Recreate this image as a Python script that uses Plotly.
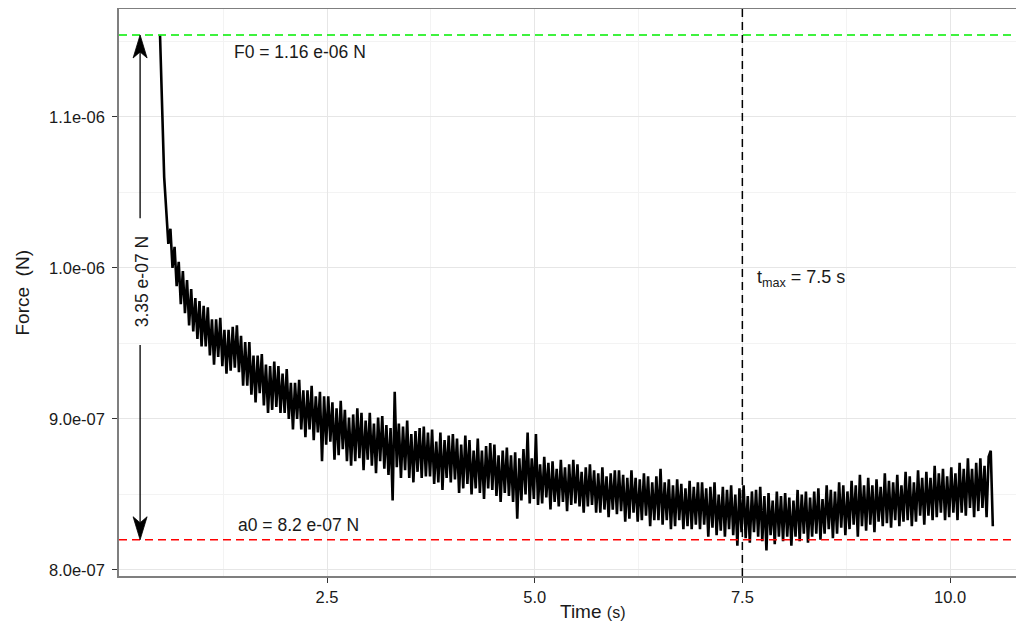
import plotly.graph_objects as go

# ---------------- data ----------------
T_START = 0.49          # s, first sample
T_STEP = 0.025          # s, sampling step of the hand-read trace
# force trace in units of 1e-9 N (nN)
force_nN = [
    1154, 1098, 1060, 1038, 1016, 1026, 1000, 1014, 988, 1004, 976, 998, 970, 992, 962, 986, 958, 980, 953, 978,
    948, 975, 948, 974, 942, 966, 936, 966, 941, 967, 935, 959, 930, 959, 932, 961, 934, 962, 931, 955,
    922, 951, 922, 951, 916, 942, 911, 942, 917, 943, 909, 936, 904, 935, 906, 938, 908, 935, 904, 930,
    904, 933, 900, 924, 893, 924, 900, 926, 893, 919, 888, 919, 893, 922, 886, 915, 891, 918, 872, 915,
    883, 915, 885, 911, 873, 907, 876, 912, 880, 906, 872, 901, 869, 903, 872, 907, 874, 904, 866, 899,
    873, 904, 869, 897, 864, 901, 872, 902, 867, 896, 863, 894, 846, 918, 868, 897, 861, 895, 866, 899,
    861, 890, 858, 892, 865, 894, 861, 895, 862, 891, 862, 893, 857, 885, 858, 891, 853, 886, 861, 889,
    858, 890, 860, 887, 851, 883, 854, 889, 857, 886, 850, 879, 854, 887, 851, 879, 847, 882, 854, 884,
    853, 883, 849, 876, 845, 879, 851, 881, 849, 876, 845, 878, 834, 874, 846, 880, 850, 891, 844, 874,
    847, 890, 843, 870, 844, 875, 848, 871, 840, 872, 845, 867, 842, 873, 845, 868, 839, 870, 843, 873,
    844, 870, 842, 865, 838, 868, 842, 870, 843, 866, 838, 864, 838, 868, 840, 862, 835, 864, 840, 866,
    837, 866, 839, 863, 832, 861, 834, 866, 838, 861, 832, 860, 833, 864, 836, 862, 829, 858, 833, 862,
    833, 867, 830, 858, 833, 860, 827, 856, 829, 860, 833, 857, 827, 854, 829, 859, 827, 855, 830, 858,
    827, 858, 830, 854, 822, 855, 828, 858, 823, 850, 826, 855, 822, 853, 827, 856, 823, 850, 816, 854,
    825, 856, 821, 849, 818, 852, 825, 853, 822, 855, 819, 849, 813, 851, 823, 846, 817, 852, 822, 849,
    819, 851, 822, 848, 816, 846, 822, 853, 819, 850, 824, 852, 818, 848, 822, 852, 824, 854, 820, 847,
    824, 856, 827, 853, 821, 852, 824, 858, 828, 856, 823, 852, 827, 859, 830, 856, 822, 863, 829, 856,
    826, 861, 830, 856, 825, 860, 832, 855, 829, 864, 831, 859, 828, 858, 833, 863, 829, 856, 832, 865,
    833, 862, 829, 858, 832, 866, 836, 861, 830, 865, 836, 861, 833, 869, 835, 864, 838, 867, 833, 862,
    835, 868, 838, 864, 833, 871, 838, 867, 836, 874, 841, 867, 835, 871, 839, 874, 841, 869, 835, 875,
    879, 829,
]
time_s = [round(T_START + T_STEP * i, 4) for i in range(len(force_nN))]
force_N = [v * 1e-9 for v in force_nN]

F0 = 1.1543e-6          # N, initial force (green line)
A0 = 8.2e-7             # N, asymptote (red line)
T_MAX = 7.5             # s, vertical dashed line
F0_LABEL = "F0 = 1.16 e-06 N"
A0_LABEL = "a0 = 8.2 e-07 N"
DIFF_LABEL = "3.35 e-07 N"
TMAX_LABEL = "t<sub>max</sub> = 7.5 s"

y_tickvals = [8.0e-7, 9.0e-7, 1.0e-6, 1.1e-6]
y_ticktext = ["8.0e-07", "9.0e-07", "1.0e-06", "1.1e-06"]
y_minor = [8.5e-7, 9.5e-7, 1.05e-6, 1.15e-6]
x_tickvals = [2.5, 5.0, 7.5, 10.0]
x_ticktext = ["2.5", "5.0", "7.5", "10.0"]
x_minor = [1.25, 3.75, 6.25, 8.75]

# ---------------- layout constants ----------------
# the page body has an 8px margin, so the figure is sized to fit the 1024x630 window
PAGE_PAD = 8
W, H = 1024 - 2 * PAGE_PAD, 630 - 2 * PAGE_PAD
ML, MR, MT, MB = 111, 0, 1, 46
PX_PER_S = 83.07
X_LEFT = -0.004
PLOT_W = W - ML - MR
PLOT_H = H - MT - MB
X_RANGE = [X_LEFT, X_LEFT + PLOT_W / PX_PER_S]
Y_RANGE = [7.96e-7, 1.1715e-6]
PX_X = PLOT_W / (X_RANGE[1] - X_RANGE[0])   # px per second
PX_Y = PLOT_H / (Y_RANGE[1] - Y_RANGE[0])   # px per newton

FONT = "Liberation Sans, Arial, Helvetica, sans-serif"
TXT = "#1a1a1a"
DASH = "8px,5px"

ARROW_X = 0.25           # s, position of the double arrow
GAP_TOP = 1.033e-6       # N, where upper arrow segment starts
GAP_BOT = 9.49e-7        # N, where lower arrow segment starts
HEAD_L, HEAD_W, HEAD_N = 23, 7, 6   # px: arrowhead length, half width, notch

fig = go.Figure()

fig.add_trace(go.Scatter(
    x=time_s, y=force_N, mode="lines",
    line=dict(color="black", width=2.6),
    hoverinfo="skip", showlegend=False,
))

shapes = []
# reference lines
shapes.append(dict(type="line", xref="paper", yref="y", x0=0, x1=1, y0=F0, y1=F0,
                   line=dict(color="#00ee00", width=1.5, dash=DASH)))
shapes.append(dict(type="line", xref="paper", yref="y", x0=0, x1=1, y0=A0, y1=A0,
                   line=dict(color="#ff0000", width=1.5, dash=DASH)))
shapes.append(dict(type="line", xref="x", yref="paper", x0=T_MAX, x1=T_MAX, y0=0, y1=1,
                   line=dict(color="black", width=1.5, dash=DASH)))

# double arrow (two segments + heads)
hl = HEAD_L / PX_Y
hn = (HEAD_L - HEAD_N) / PX_Y
hw = HEAD_W / PX_X
shapes.append(dict(type="line", xref="x", yref="y", x0=ARROW_X, x1=ARROW_X,
                   y0=GAP_TOP, y1=F0 - hn, line=dict(color="black", width=1.3)))
shapes.append(dict(type="line", xref="x", yref="y", x0=ARROW_X, x1=ARROW_X,
                   y0=GAP_BOT, y1=A0 + hn, line=dict(color="black", width=1.3)))
for tip, sgn in ((F0, -1), (A0, 1)):
    path = (f"M {ARROW_X},{tip} "
            f"L {ARROW_X - hw},{tip + sgn * hl} "
            f"L {ARROW_X},{tip + sgn * hn} "
            f"L {ARROW_X + hw},{tip + sgn * hl} Z")
    shapes.append(dict(type="path", xref="x", yref="y", path=path,
                       fillcolor="black", line=dict(color="black", width=0.8)))


def px_to_paper_x(px):
    return (px - PAGE_PAD - ML) / PLOT_W


def px_to_paper_y(py):
    return 1 - (py - PAGE_PAD - MT) / PLOT_H


annotations = [
    dict(x=2.175, y=1.1432e-6, xref="x", yref="y", text=F0_LABEL, showarrow=False,
         font=dict(size=17.5, color=TXT, family=FONT), xanchor="center", yanchor="middle"),
    dict(x=2.157, y=8.30e-7, xref="x", yref="y", text=A0_LABEL, showarrow=False,
         font=dict(size=17.5, color=TXT, family=FONT), xanchor="center", yanchor="middle"),
    dict(x=7.655, y=9.93e-7, xref="x", yref="y", text=TMAX_LABEL, showarrow=False,
         font=dict(size=18, color=TXT, family=FONT), xanchor="left", yanchor="middle"),
    dict(x=ARROW_X + 0.02, y=9.91e-7, xref="x", yref="y", text=DIFF_LABEL, showarrow=False,
         textangle=-90, font=dict(size=17.5, color=TXT, family=FONT),
         xanchor="center", yanchor="middle"),
    # axis titles
    dict(x=px_to_paper_x(592), y=px_to_paper_y(611), xref="paper", yref="paper",
         text="Time <span style='font-size:16px'>(s)</span>", showarrow=False,
         font=dict(size=19, color=TXT, family=FONT), xanchor="center", yanchor="middle"),
    dict(x=px_to_paper_x(22), y=0.5, xref="paper", yref="paper",
         text="Force  (N)", showarrow=False, textangle=-90,
         font=dict(size=19, color=TXT, family=FONT), xanchor="center", yanchor="middle"),
]

fig.update_layout(
    width=W, height=H,
    margin=dict(l=ML, r=MR, t=MT, b=MB, pad=0),
    paper_bgcolor="white", plot_bgcolor="white",
    shapes=shapes, annotations=annotations,
    font=dict(family=FONT, color=TXT),
    showlegend=False,
)
fig.update_xaxes(
    range=X_RANGE, tickmode="array", tickvals=x_tickvals, ticktext=x_ticktext,
    ticks="outside", ticklen=5, tickwidth=1.2, tickcolor="#333333",
    tickfont=dict(size=16.5, color=TXT, family=FONT),
    showgrid=True, gridcolor="#e6e6e6", gridwidth=1,
    minor=dict(tickmode="array", tickvals=x_minor, showgrid=True,
               gridcolor="#f3f3f3", gridwidth=1, ticks=""),
    showline=True, linecolor="#7f7f7f", linewidth=1.5, mirror=True,
    zeroline=False,
)
fig.update_yaxes(
    range=Y_RANGE, tickmode="array", tickvals=y_tickvals, ticktext=y_ticktext,
    ticks="outside", ticklen=5, tickwidth=1.2, tickcolor="#333333",
    tickfont=dict(size=16.5, color=TXT, family=FONT), ticklabelstandoff=4,
    showgrid=True, gridcolor="#e6e6e6", gridwidth=1,
    minor=dict(tickmode="array", tickvals=y_minor, showgrid=True,
               gridcolor="#f3f3f3", gridwidth=1, ticks=""),
    showline=True, linecolor="#7f7f7f", linewidth=1.5, mirror=False,
    zeroline=False,
)

fig.write_html("out.html")
